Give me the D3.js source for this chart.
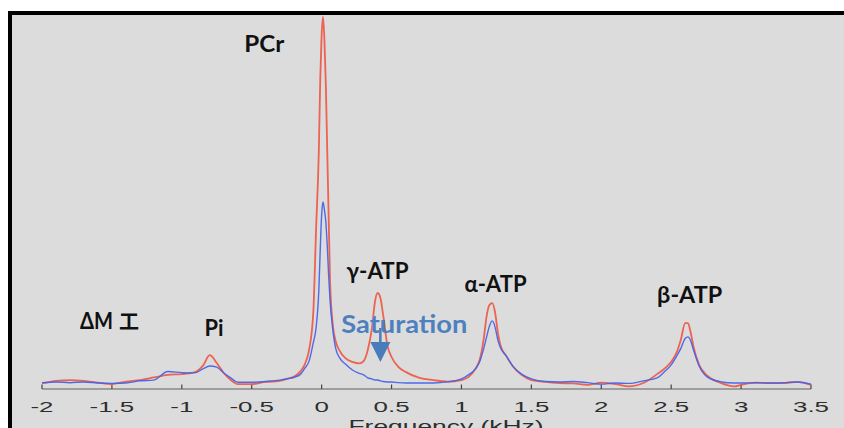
<!DOCTYPE html>
<html>
<head>
<meta charset="utf-8">
<script src="https://cdn.jsdelivr.net/npm/d3@7"></script>
<style>
  html, body { margin: 0; padding: 0; background: #ffffff; }
  svg { display: block; }
</style>
</head>
<body>
<svg id="chart" width="844" height="428"></svg>
<script>
// ---- data ----
const freq = [-2.0,-1.9,-1.8,-1.7,-1.6,-1.5,-1.4,-1.3,-1.2,-1.1,-1.0,-0.95,-0.9,-0.85,-0.8,-0.75,-0.7,-0.65,-0.6,-0.5,-0.4,-0.3,-0.25,-0.2,-0.15,-0.12,-0.09,-0.06,-0.04,-0.02,-0.01,0.0,0.01,0.02,0.03,0.04,0.05,0.06,0.08,0.1,0.13,0.17,0.22,0.27,0.3,0.33,0.36,0.38,0.4,0.42,0.44,0.47,0.5,0.55,0.6,0.7,0.8,0.9,1.0,1.05,1.1,1.13,1.16,1.18,1.2,1.22,1.24,1.26,1.28,1.32,1.37,1.43,1.5,1.6,1.7,1.8,1.9,2.0,2.1,2.2,2.3,2.4,2.45,2.5,2.54,2.57,2.6,2.62,2.64,2.66,2.7,2.76,2.85,2.95,3.0,3.1,3.2,3.3,3.4,3.5];
const redSpectrum = [1.5,2.2,2.4,2.2,1.7,1.3,2.0,2.4,3.1,3.8,4.0,4.2,4.6,6.2,9.1,7.0,4.3,2.4,1.3,1.3,1.9,2.2,2.7,3.3,4.8,6.7,10.5,20.4,42.7,64.2,83.1,95.2,100,93.8,81.7,64.2,46.8,29.3,17.2,12.9,10.2,8.3,7.3,6.9,7.5,10.5,16.4,23.1,25.8,24.5,19.9,11.8,8.6,5.9,4.6,3.0,2.4,2.0,2.4,3.2,5.4,7.8,13.7,19.6,22.6,23.1,20.7,15.3,11.6,8.9,6.0,3.8,2.4,1.9,1.6,1.5,1.1,1.7,1.3,0.7,1.6,4.0,5.4,7.3,9.9,13.4,17.7,17.7,15.1,11.3,6.5,3.5,1.7,0.7,1.1,1.7,1.6,1.6,1.9,1.1];
const blueSpectrum = [1.7,1.9,1.7,1.9,1.6,1.5,1.6,2.2,2.4,4.7,4.4,4.3,4.4,5.4,6.2,5.9,4.3,3.0,1.8,1.8,2.0,2.4,2.7,3.1,4.0,5.6,7.5,12.4,16.4,26.6,37.4,46.8,50.3,48.1,44.9,38.7,30.6,23.9,15.9,11.0,8.3,6.7,5.1,4.2,3.8,3.0,2.7,2.4,2.4,2.2,2.0,1.9,1.9,1.7,1.6,1.6,1.6,1.9,2.7,3.8,5.4,7.3,11.0,14.0,16.9,18.3,16.7,13.2,11.0,8.9,6.0,4.0,2.7,2.0,1.9,2.0,1.7,1.3,1.6,1.5,2.2,3.0,4.6,6.5,8.9,11.0,13.6,14.0,12.9,10.5,6.2,3.2,2.0,1.6,1.6,1.7,1.6,1.7,1.9,1.3];
const xTicks = [-2,-1.5,-1,-0.5,0,0.5,1,1.5,2,2.5,3,3.5];
const xTickLabels = ["-2","-1.5","-1","-0.5","0","0.5","1","1.5","2","2.5","3","3.5"];
const xTitle = "Frequency (kHz)";
const peakLabels = [
  {text: "PCr",   f: -0.41, v: 90.5, w: 40},
  {text: "γ-ATP", f: 0.40,  v: 29.6, w: 62},
  {text: "α-ATP", f: 1.244, v: 26.2, w: 62},
  {text: "β-ATP", f: 2.632, v: 23.0, w: 65},
  {text: "Pi",    f: -0.77, v: 14.2, w: 19}
];
const annotText = "Saturation";
const annotFreq = 0.42;

// ---- drawing ----
const svg = d3.select("#chart");
const W = 844, H = 428;

// frame
svg.append("rect").attr("x", 8).attr("y", 11).attr("width", W - 8).attr("height", H - 11).attr("fill", "#000");
svg.append("rect").attr("x", 12).attr("y", 15).attr("width", W - 12).attr("height", H - 15).attr("fill", "#dcdcdc");

const x = d3.scaleLinear().domain([-2, 3.5]).range([42, 811]);
const y = d3.scaleLinear().domain([0, 100]).range([389, 17]);

// axis
const axisG = svg.append("g").attr("transform", "translate(0,389)");
axisG.append("line").attr("x1", x(-2)).attr("x2", x(3.5)).attr("y1", 0).attr("y2", 0)
  .attr("stroke", "#8a8a8a").attr("stroke-width", 1.6);
axisG.selectAll("line.tick").data(xTicks).join("line").attr("class", "tick")
  .attr("x1", d => x(d)).attr("x2", d => x(d)).attr("y1", 0).attr("y2", -4.5)
  .attr("stroke", "#444").attr("stroke-width", 1.2);
axisG.selectAll("text.tl").data(xTicks).join("text").attr("class", "tl")
  .attr("transform", d => `translate(${x(d)},23) scale(1.85,1)`)
  .attr("text-anchor", "middle")
  .attr("font-family", "Liberation Sans, Arial, sans-serif")
  .attr("font-size", 14).attr("fill", "#2e2e2e")
  .text((d, i) => xTickLabels[i]);

svg.append("text")
  .attr("transform", `translate(446,432) scale(1.6,1)`)
  .attr("text-anchor", "middle")
  .attr("font-family", "Liberation Sans, Arial, sans-serif")
  .attr("font-size", 16.5).attr("fill", "#2e2e2e")
  .text(xTitle);

// spectra
const pts = (vals) => freq.map((f, i) => [f, vals[i]]);
const line = d3.line().x(d => x(d[0])).y(d => y(d[1])).curve(d3.curveMonotoneX);

svg.append("path").attr("d", line(pts(redSpectrum)))
  .attr("fill", "none").attr("stroke", "#ee5844").attr("stroke-width", 1.8)
  .attr("stroke-linejoin", "round").attr("opacity", 0.92);
svg.append("path").attr("d", line(pts(blueSpectrum)))
  .attr("fill", "none").attr("stroke", "#4763e8").attr("stroke-width", 1.4)
  .attr("stroke-linejoin", "round").attr("opacity", 0.95);

// peak labels
const labelFont = "Lato, 'Open Sans', sans-serif";
svg.selectAll("text.pk").data(peakLabels).join("text").attr("class", "pk")
  .attr("x", d => x(d.f)).attr("y", d => y(d.v))
  .attr("text-anchor", "middle")
  .attr("textLength", d => d.w).attr("lengthAdjust", "spacingAndGlyphs")
  .attr("font-family", labelFont).attr("font-weight", "bold")
  .attr("font-size", 22).attr("fill", "#111")
  .text(d => d.text);

// ΔM label
svg.append("text").attr("x", 80).attr("y", 329)
  .attr("textLength", 33).attr("lengthAdjust", "spacingAndGlyphs")
  .attr("font-family", labelFont).attr("font-weight", "bold")
  .attr("font-size", 22).attr("fill", "#111").text("ΔM");
svg.append("text").attr("x", 119).attr("y", 329)
  .attr("font-family", "'Noto Sans CJK SC', sans-serif").attr("font-weight", "bold")
  .attr("font-size", 20).attr("fill", "#111").text("工");

// Saturation annotation
const ax = x(annotFreq);
svg.append("text").attr("x", ax + 24).attr("y", 333)
  .attr("text-anchor", "middle")
  .attr("textLength", 126).attr("lengthAdjust", "spacingAndGlyphs")
  .attr("font-family", labelFont).attr("font-weight", "bold")
  .attr("font-size", 25).attr("fill", "#4e80bf")
  .text(annotText);
svg.append("line").attr("x1", ax).attr("x2", ax).attr("y1", 328).attr("y2", 343)
  .attr("stroke", "#4a7bbb").attr("stroke-width", 2.5);
svg.append("path")
  .attr("d", `M${ax - 10},342 L${ax + 10},342 L${ax},362 Z`)
  .attr("fill", "#4a7bbb");
</script>
</body>
</html>
